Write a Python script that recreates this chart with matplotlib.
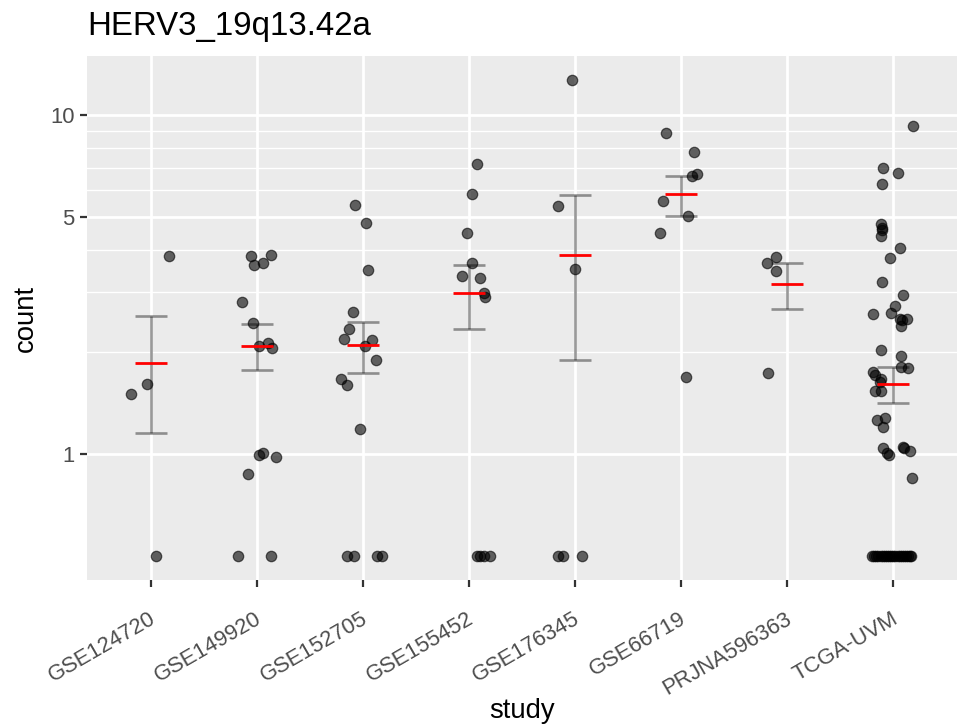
import matplotlib
matplotlib.use("Agg")
import matplotlib.pyplot as plt
import numpy as np

plt.rcParams['font.family'] = ['Liberation Sans', 'DejaVu Sans']

studies = ["GSE124720", "GSE149920", "GSE152705", "GSE155452",
           "GSE176345", "GSE66719", "PRJNA596363", "TCGA-UVM"]

# counts (0 = no reads, drawn on the floor at 0.5)
gse124720 = [3.83, 1.61, 1.50, 0]
gse124720_jit = [0.176, -0.038, -0.189, 0.05]

gse149920 = [3.83, 3.88, 3.62, 3.67, 2.81, 2.44, 2.08, 2.13, 2.05,
             0.995, 1.007, 0.978, 0.875, 0, 0]
gse149920_jit = [-0.053, 0.138, -0.025, 0.057, -0.138, -0.038, 0.025, 0.110, 0.145,
                 0.025, 0.06, 0.179, -0.082, -0.173, 0.135]

gse152705 = [5.44, 4.82, 3.49, 2.63, 2.34, 2.18, 2.17, 2.08, 1.89, 1.67, 1.60, 1.19,
             0, 0, 0, 0]
gse152705_jit = [-0.075, 0.025, 0.044, -0.091, -0.126, -0.173, 0.082, 0.022, 0.126,
                 -0.204, -0.148, -0.028, -0.154, -0.082, 0.129, 0.182]

gse155452 = [7.19, 5.85, 4.48, 3.67, 3.35, 3.30, 2.99, 2.90, 0, 0, 0, 0]
gse155452_jit = [0.072, 0.031, -0.016, 0.031, -0.069, 0.107, 0.138, 0.148,
                 0.072, 0.104, 0.145, 0.198]

gse176345 = [12.72, 5.39, 3.53, 0, 0, 0]
gse176345_jit = [-0.025, -0.164, -0.003, -0.157, -0.11, 0.063]

gse66719 = [8.85, 7.81, 6.70, 6.60, 5.58, 5.05, 4.49, 1.69]
gse66719_jit = [-0.145, 0.123, 0.154, 0.101, -0.167, 0.063, -0.195, 0.047]

prjna596363 = [3.82, 3.67, 3.47, 1.73]
prjna596363_jit = [-0.104, -0.195, -0.107, -0.182]

tcga_uvm = [9.30, 6.97, 6.74, 6.25, 4.77, 4.64, 4.59, 4.39, 4.05, 3.79, 3.21,
            2.94, 2.73, 2.60, 2.61, 2.51, 2.51, 2.49, 2.39, 2.03, 1.95, 1.81, 1.79,
            1.75, 1.71, 1.67, 1.63, 1.54, 1.54, 1.26, 1.28, 1.20, 1.04, 1.007, 0.995,
            1.05, 1.04, 1.02, 0.853,
            0, 0, 0, 0, 0, 0, 0, 0, 0, 0, 0, 0, 0, 0, 0, 0, 0, 0, 0, 0]
tcga_uvm_jit = [0.189, -0.094, 0.047, -0.110, -0.119, -0.110, -0.110, -0.113, 0.060,
                -0.031, -0.110, 0.091, 0.013, -0.195, -0.019, 0.060, 0.129, 0.085,
                0.069, -0.119, 0.069, 0.069, 0.142, -0.189, -0.176, -0.113, -0.126,
                -0.173, -0.113, -0.151, -0.079, -0.101, -0.094, -0.057, -0.044,
                0.088, 0.101, 0.157, 0.173,
                -0.20, -0.18, -0.16, -0.14, -0.12, -0.10, -0.08, -0.06, -0.04, -0.02,
                0.0, 0.02, 0.04, 0.06, 0.08, 0.10, 0.12, 0.14, 0.16, 0.17]

# mean and mean +/- se per study
mean_vals = [1.86, 2.09, 2.10, 2.98, 3.87, 5.85, 3.17, 1.61]
se_low = [1.157, 1.77, 1.73, 2.34, 1.90, 5.06, 2.68, 1.42]
se_high = [2.56, 2.42, 2.46, 3.62, 5.83, 6.63, 3.66, 1.81]

counts = [gse124720, gse149920, gse152705, gse155452,
          gse176345, gse66719, prjna596363, tcga_uvm]
jitters = [gse124720_jit, gse149920_jit, gse152705_jit, gse155452_jit,
           gse176345_jit, gse66719_jit, prjna596363_jit, tcga_uvm_jit]

fig = plt.figure(figsize=(9.69, 7.24), dpi=100)
ax = fig.add_axes([87 / 969, 1 - 580 / 724, 870 / 969, 524 / 724])
ax.set_facecolor("#EBEBEB")
for s in ax.spines.values():
    s.set_visible(False)

floor = 0.5
for i, (vals, jit) in enumerate(zip(counts, jitters)):
    v = np.array(vals, dtype=float)
    v = np.where(v <= 0, floor, v)
    x = i + np.array(jit)
    ax.scatter(x, v, s=56, facecolor="black", edgecolor="black",
               linewidth=0.9, alpha=0.6, zorder=3)

xpos = np.arange(len(studies))
cap = 0.15
ax.vlines(xpos, se_low, se_high, color="black", alpha=0.4, lw=1.9, zorder=4)
ax.hlines(se_low, xpos - cap, xpos + cap, color="black", alpha=0.4, lw=1.9, zorder=4)
ax.hlines(se_high, xpos - cap, xpos + cap, color="black", alpha=0.4, lw=1.9, zorder=4)
ax.hlines(mean_vals, xpos - cap, xpos + cap, color="red", lw=2.0, zorder=5)

ax.set_yscale("log")
all_vals = np.concatenate([np.where(np.array(c) <= 0, floor, c) for c in counts])
lo, hi = np.log10(all_vals.min()), np.log10(all_vals.max())
pad = 0.05 * (hi - lo)
ax.set_ylim(10 ** (lo - pad), 10 ** (hi + pad))
ax.set_xlim(-0.6, len(studies) - 0.4)

ax.set_yticks([1, 5, 10])
ax.set_yticklabels(["1", "5", "10"])
ax.set_yticks([2, 3, 4, 6, 7, 8, 9], minor=True)
ax.yaxis.set_minor_formatter(matplotlib.ticker.NullFormatter())

# tick marks on the categories, labels hang below (ggplot angle=30, hjust=1, vjust=1)
ax.set_xticks(xpos)
ax.set_xticklabels([])
ax.set_xticks(xpos - 0.019, minor=True)
ax.set_xticklabels(studies, minor=True, rotation=30, ha="right", va="top",
                   rotation_mode="anchor")

ax.grid(True, which="major", color="white", lw=2.0, zorder=0)
ax.grid(True, which="minor", axis="y", color="white", lw=1.0, zorder=0)
ax.set_axisbelow(True)

ax.tick_params(axis="both", which="major", length=5, width=1.6, color="#333333",
               labelsize=15.8, labelcolor="#4D4D4D", pad=4)
ax.tick_params(axis="y", which="minor", length=0)
ax.tick_params(axis="x", which="minor", length=0, labelsize=15.8,
               labelcolor="#4D4D4D", pad=20.5)

ax.set_xlabel("study", fontsize=19.8, labelpad=-1)
ax.set_ylabel("count", fontsize=19.8, labelpad=8)
ax.set_title("HERV3_19q13.42a", fontsize=23.8, loc="left", pad=15)

fig.savefig("out.png", dpi=100)
